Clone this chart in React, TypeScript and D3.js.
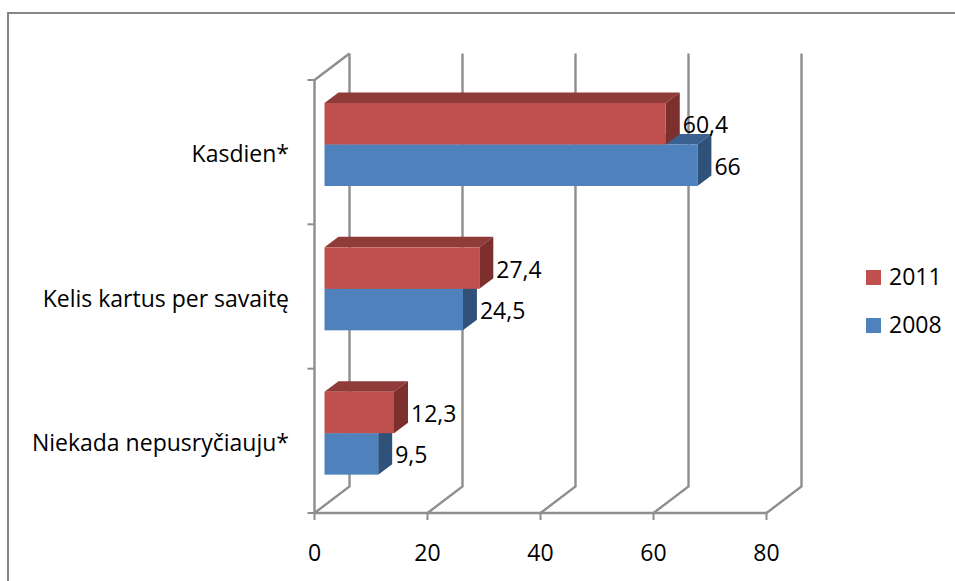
import React from "react";
import * as d3 from "d3";

const categories = ["Kasdien*", "Kelis kartus per savaitę", "Niekada nepusryčiauju*"];
const seriesNames = ["2011", "2008"];
const values2011 = [60.4, 27.4, 12.3];
const values2008 = [66, 24.5, 9.5];
const xTicks = [0, 20, 40, 60, 80];

const palette: Record<string, { front: string; top: string; side: string }> = {
  "2011": { front: "#C0504D", top: "#8F3B39", side: "#7C2F2D" },
  "2008": { front: "#4F81BD", top: "#3A618F", side: "#30517A" },
};
const valuesBySeries: Record<string, number[]> = { "2011": values2011, "2008": values2008 };

const W = 955, H = 581;
const FONT = "'Open Sans', sans-serif";
const GRID = "#8E8E8E";
const x = d3.scaleLinear().domain([0, 80]).range([314.5, 766.5]);
const y = d3.scaleBand<string>().domain(categories).range([80, 513]);
const inner = d3.scaleBand<string>().domain(seriesNames).range([23, 106]);
const DX = 35, DY = -26.5;
const BAR_DX = 14, BAR_DY = -10.5, BAR_X0 = 10;
const fmt = (v: number) => String(v).replace(".", ",");
const poly = (pts: [number, number][]) => pts.map((p) => p.join(",")).join(" ");

export default function App() {
  const yBottom = y.range()[1], yTop = y.range()[0];
  const catTicks = [...categories.map((c) => y(c)!), yBottom];
  return (
    <svg width={W} height={H} style={{ position: "absolute", left: 0, top: 0 }}>
      <rect width={W} height={H} fill="#fff" />
      <path d={`M8 581V13H955`} fill="none" stroke="#868686" strokeWidth={2} />
      {xTicks.map((t) => (
        <path key={t} d={`M${x(t)} ${yBottom}L${x(t) + DX} ${yBottom + DY}V${yTop + DY}`} fill="none" stroke={GRID} strokeWidth={2.4} />
      ))}
      <path d={`M${x(0)} ${yTop}L${x(0) + DX} ${yTop + DY}`} fill="none" stroke={GRID} strokeWidth={2.4} />
      <path d={`M${x(0)} ${yTop}V${yBottom}H${x(80)}`} fill="none" stroke={GRID} strokeWidth={2.4} />
      {catTicks.map((v, i) => (
        <line key={i} x1={x(0) - 7} x2={x(0)} y1={v} y2={v} stroke={GRID} strokeWidth={2} />
      ))}
      {xTicks.map((t) => (
        <line key={t} x1={x(t)} x2={x(t)} y1={yBottom} y2={yBottom + 7} stroke={GRID} strokeWidth={2} />
      ))}
      {categories.map((c, i) => (
        <g key={c}>
          {[...seriesNames].reverse().map((s) => {
            const v = valuesBySeries[s][i];
            const x0 = x(0) + BAR_X0, x1 = x(v) + BAR_X0;
            const y0 = y(c)! + inner(s)!, y1 = y0 + inner.bandwidth();
            const col = palette[s];
            return (
              <g key={s}>
                <polygon points={poly([[x0, y0], [x0 + BAR_DX, y0 + BAR_DY], [x1 + BAR_DX, y0 + BAR_DY], [x1, y0]])} fill={col.top} />
                <polygon points={poly([[x1, y0], [x1 + BAR_DX, y0 + BAR_DY], [x1 + BAR_DX, y1 + BAR_DY], [x1, y1]])} fill={col.side} />
                <rect x={x0} y={y0} width={x1 - x0} height={y1 - y0} fill={col.front} />
              </g>
            );
          })}
        </g>
      ))}
      <g fontFamily={FONT} fontSize={23} fill="#000">
        {categories.map((c, i) =>
          seriesNames.map((s) => {
            const v = valuesBySeries[s][i];
            return (
              <text key={c + s} x={x(v) + BAR_X0 + BAR_DX + 3} y={y(c)! + inner(s)! + inner.bandwidth() / 2 + 9.5}>
                {fmt(v)}
              </text>
            );
          })
        )}
        {categories.map((c) => (
          <text key={c} x={289} y={y(c)! + y.bandwidth() / 2 + 10} textAnchor="end">{c}</text>
        ))}
        {xTicks.map((t) => (
          <text key={t} x={x(t)} y={561} textAnchor="middle">{t}</text>
        ))}
        {seriesNames.map((s, i) => (
          <g key={s}>
            <rect x={866} y={270 + i * 48} width={15} height={15} fill={palette[s].front} />
            <text x={889} y={285 + i * 48}>{s}</text>
          </g>
        ))}
      </g>
    </svg>
  );
}
